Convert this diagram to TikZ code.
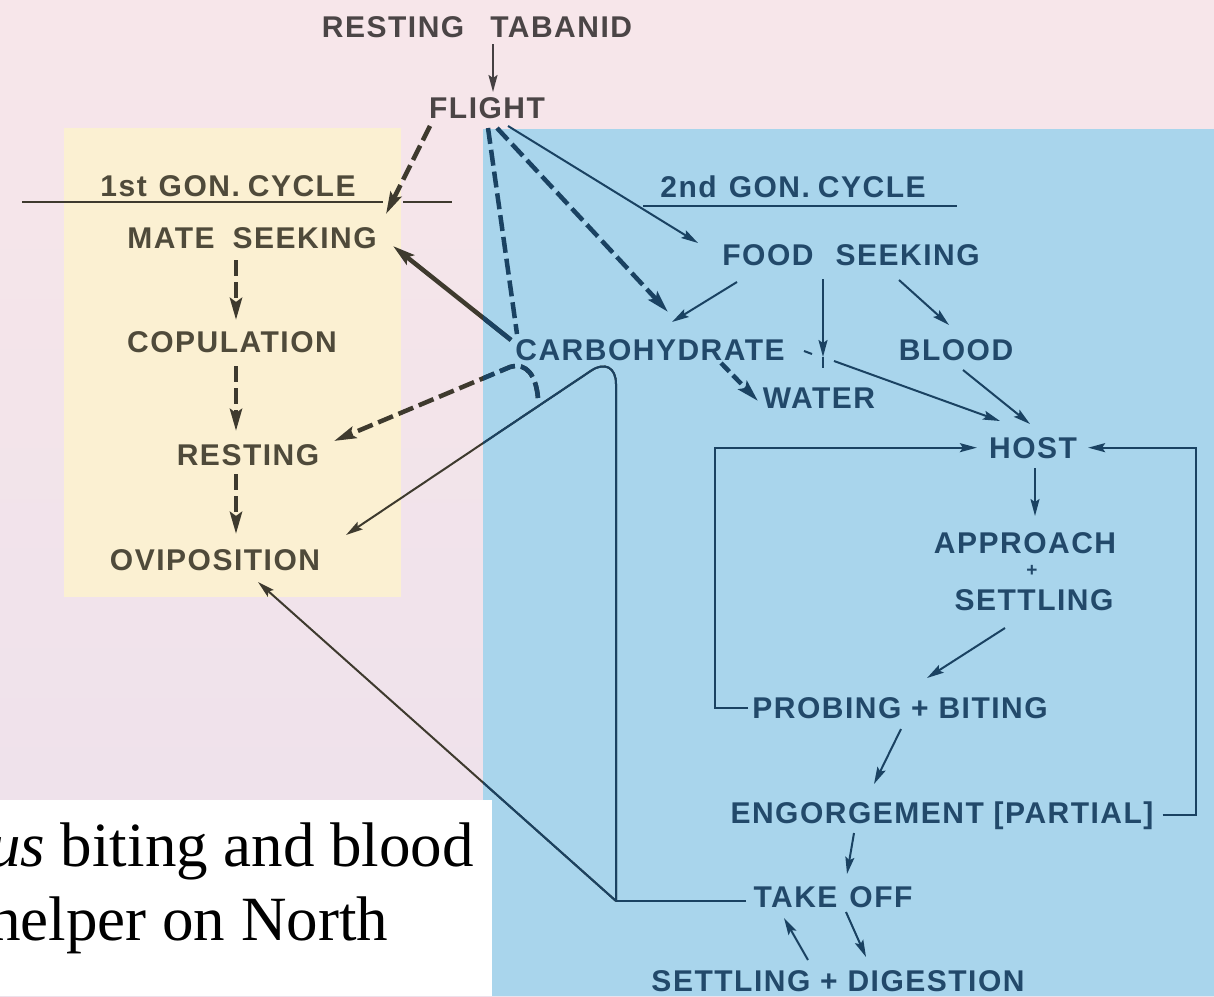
\documentclass[tikz,border=0pt]{standalone}
\usepackage{fontspec}
\setmainfont{Liberation Serif}
\newfontfamily\labelfont[LetterSpace=5]{Liberation Sans}
\usetikzlibrary{arrows.meta}

\definecolor{bgtop}{HTML}{F7E6EA}
\definecolor{bgbottom}{HTML}{EDE1EB}
\definecolor{paleyellow}{HTML}{FBF0D2}
\definecolor{skyblue}{HTML}{A9D5EC}
\definecolor{txtgray}{HTML}{4B4546}
\definecolor{txtbrown}{HTML}{4F4A3A}
\definecolor{txtnavy}{HTML}{22496A}
\definecolor{inkgray}{HTML}{454042}
\definecolor{inkbrown}{HTML}{3E3A2E}
\definecolor{inknavy}{HTML}{1A4262}

% connectors that run from the blue panel into the pale part
\newcommand\crossconnectors[1]{%
  % carbohydrate -> mate seeking
  \draw[heavyarrow, color=#1] (carb-w) -- (mate-e);
  % junction below carbohydrate -> resting
  \draw[heavyarrow, dashes, color=#1] (jn-a) .. controls (536,376) and (527,362) .. (jn-b) -- (rest-e);
  % take off -> over the hump -> oviposition
  \draw[thinarrow, rounded corners=30pt, color=#1] (tc) -- (hump) -- (ovi-e);
  % take off -> oviposition, direct
  \draw[thinarrow, color=#1] (tc) -- (ovi-s);
}

\begin{document}
\begin{tikzpicture}[x=1pt, y=-1pt,
  lbl/.style={anchor=base, inner sep=0pt, font=\labelfont\bfseries\fontsize{30}{30}\selectfont},
  toplbl/.style={lbl, text=txtgray},
  leftlbl/.style={lbl, text=txtbrown},
  rightlbl/.style={lbl, text=txtnavy},
  thinline/.style={line width=2pt},
  thinarrow/.style={thinline, -{Stealth[length=17pt, width=9pt, inset=3pt]}},
  heavyline/.style={line width=4.5pt},
  heavyarrow/.style={heavyline, -{Stealth[length=22pt, width=12pt, inset=4pt]}},
  dashes/.style={dash pattern=on 16pt off 6pt},
  rule/.style={line width=2.5pt},
  caption/.style={anchor=base west, inner sep=0pt, font=\fontsize{63}{63}\selectfont, text=black},
]
\useasboundingbox (0,0) rectangle (1214,996);
\begin{scope}
\clip (0,0) rectangle (1214,996);

% ---------- backgrounds ----------
\shade[top color=bgtop, bottom color=bgbottom] (0,0) rectangle (1214,996);
\fill[paleyellow] (64,128) rectangle (401,597);
\fill[skyblue] (483,129) rectangle (1214,996);
\fill[white] (0,800) rectangle (492,996);

% ---------- caption fragment (runs off the left edge) ----------
\node[caption] (cap1) at (-11,866) {\textit{us} biting and blood};
\node[caption] (cap2) at (-11,940) {helper on North};

% ---------- labels ----------
\node[toplbl] (rt) at (477,37) {RESTING\hspace{26pt}TABANID};
\node[toplbl] (fl) at (487,118) {FLIGHT};

\node[leftlbl] (g1) at (228,196) {1st\hspace{12pt}GON.\hspace{8pt}CYCLE};
\node[leftlbl] (mate) at (252,248) {MATE\hspace{18pt}SEEKING};
\node[leftlbl] (cop) at (232,352) {COPULATION};
\node[leftlbl] (rest) at (248,465) {RESTING};
\node[leftlbl] (ovi) at (215,570) {OVIPOSITION};

\node[rightlbl] (g2) at (793,197) {2nd\hspace{12pt}GON.\hspace{8pt}CYCLE};
\node[rightlbl] (food) at (851,265) {FOOD\hspace{22pt}SEEKING};
\node[rightlbl] (carb) at (650,360) {CARBOHYDRATE};
\node[rightlbl] (blood) at (956,360) {BLOOD};
\node[rightlbl] (water) at (819,408) {WATER};
\node[rightlbl] (host) at (1033,458) {HOST};
\node[rightlbl] (appr) at (1025,553) {APPROACH};
\node[rightlbl, anchor=center, font=\labelfont\bfseries\fontsize{19}{19}\selectfont] (plus) at (1032,571) {+};
\node[rightlbl] (sett) at (1034,610) {SETTLING};
\node[rightlbl] (prob) at (900,718) {PROBING + BITING};
\node[rightlbl] (eng) at (942,823) {ENGORGEMENT [PARTIAL]};
\node[rightlbl] (take) at (833,907) {TAKE\hspace{12pt}OFF};
\node[rightlbl] (sd) at (838,991) {SETTLING + DIGESTION};

% ---------- cycle heading rules ----------
\draw[rule, color=inkbrown] (22,202) -- (383,202) (403,202) -- (452,202);
\draw[rule, color=inknavy] (643,206) -- (957,206);

% ---------- end points ----------
\coordinate (rt-a) at (493,44);   \coordinate (fl-a) at (493,92);
\coordinate (fl-b) at (430,126);  \coordinate (mate-n) at (386,214);
\coordinate (fl-c) at (488,128);  \coordinate (carb-nw) at (517,334);
\coordinate (fl-d) at (497,128);  \coordinate (carb-n) at (668,312);
\coordinate (fl-e) at (508,126);  \coordinate (food-w) at (698,243);
\coordinate (food-a) at (737,282); \coordinate (carb-ne) at (672,322);
\coordinate (food-b) at (823,279); \coordinate (water-a) at (823,357); \coordinate (water-b) at (823,368);
\coordinate (food-c) at (899,280); \coordinate (blood-n) at (949,325);
\coordinate (carb-e) at (804,351); \coordinate (carb-e2) at (812,354);
\coordinate (carb-e3) at (834,361); \coordinate (host-nw) at (1000,421);
\coordinate (blood-s) at (963,370); \coordinate (host-n) at (1030,424);
\coordinate (carb-s) at (721,363); \coordinate (water-nw) at (758,401);
\coordinate (host-s) at (1035,468); \coordinate (appr-n) at (1035,516);
\coordinate (sett-s) at (1005,628); \coordinate (prob-ne) at (927,678);
\coordinate (prob-s) at (901,729); \coordinate (eng-n) at (874,784);
\coordinate (eng-s) at (854,833); \coordinate (take-n) at (847,874);
\coordinate (sd-a) at (808,960);  \coordinate (take-sw) at (784,918);
\coordinate (take-s) at (846,912); \coordinate (sd-b) at (866,957);
\coordinate (m1) at (236,260); \coordinate (c1) at (236,320);
\coordinate (c2) at (236,366); \coordinate (r1) at (236,431);
\coordinate (r2) at (236,474); \coordinate (o1) at (236,534);
\coordinate (carb-w) at (511,340); \coordinate (mate-e) at (393,246);
\coordinate (jn-a) at (538,398);  \coordinate (jn-b) at (510,367); \coordinate (rest-e) at (334,441);
\coordinate (take-w) at (746,901); \coordinate (tc) at (616,901);
\coordinate (hump) at (616,354);  \coordinate (ovi-e) at (346,535);
\coordinate (ovi-s) at (258,582);

% ---------- first gonotrophic cycle ----------
\draw[thinarrow, color=inkgray] (rt-a) -- (fl-a);
\draw[heavyarrow, dashes, color=inkbrown] (fl-b) -- (mate-n);
\draw[heavyarrow, dashes, color=inkbrown] (m1) -- (c1);
\draw[heavyarrow, dashes, color=inkbrown] (c2) -- (r1);
\draw[heavyarrow, dashes, color=inkbrown] (r2) -- (o1);

% ---------- second gonotrophic cycle ----------
\draw[heavyline, dashes, color=inknavy] (fl-c) -- (carb-nw);
\draw[heavyarrow, dashes, color=inknavy] (fl-d) -- (carb-n);
\draw[thinarrow, color=inknavy] (fl-e) -- (food-w);
\draw[thinarrow, color=inknavy] (food-a) -- (carb-ne);
\draw[thinline, color=inknavy] (carb-e) -- (carb-e2);
\draw[thinarrow, color=inknavy] (carb-e3) -- (host-nw);
\draw[thinarrow, color=inknavy] (food-b) -- (water-a);
\draw[thinline, color=inknavy] (water-a) -- (water-b);
\draw[thinarrow, color=inknavy] (food-c) -- (blood-n);
\draw[thinarrow, color=inknavy] (blood-s) -- (host-n);
\draw[heavyarrow, dash pattern=on 12pt off 5pt, color=inknavy] (carb-s) -- (water-nw);

% host loop
\draw[thinarrow, color=inknavy] (host-s) -- (appr-n);
\draw[thinarrow, color=inknavy] (sett-s) -- (prob-ne);
\draw[thinarrow, color=inknavy] (prob-s) -- (eng-n);
\draw[thinarrow, color=inknavy] (eng-s) -- (take-n);
\draw[thinarrow, color=inknavy, shorten >=12pt] ([xshift=-4pt]prob.west) -- ++(-33,0) |- (host.west);
\draw[thinarrow, color=inknavy, shorten >=11pt] ([xshift=9pt]eng.east) -- ([xshift=42pt]eng.east) |- (host.east);
\draw[thinarrow, color=inknavy] (sd-a) -- (take-sw);
\draw[thinarrow, color=inknavy] (take-s) -- (sd-b);
\draw[thinline, color=inknavy] (take-w) -- (tc);

% connectors crossing the panel edge: pale-side colour, then blue-side colour
\crossconnectors{inkbrown}
\begin{scope}
  \clip (483,129) rectangle (1214,996);
  \crossconnectors{inknavy}
\end{scope}

\end{scope}
\end{tikzpicture}
\end{document}
